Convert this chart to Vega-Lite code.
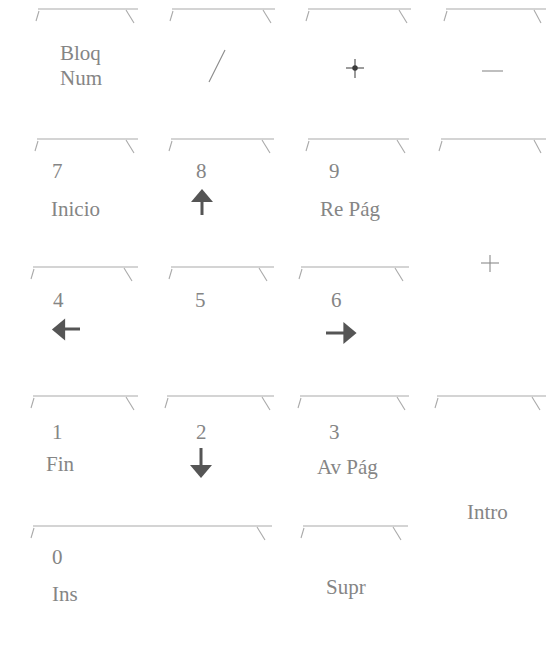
{
  "$schema": "https://vega.github.io/schema/vega-lite/v6.json",
  "width": 546,
  "height": 649,
  "padding": 0,
  "autosize": "none",
  "background": "white",
  "config": {"view": {"stroke": null}},
  "datasets": {
    "outline": [
      {"x": 38, "y": 9, "x2": 138, "y2": 9}, {"x": 126, "y": 10, "x2": 134, "y2": 23}, {"x": 39, "y": 11, "x2": 36, "y2": 21},
      {"x": 172, "y": 9, "x2": 275, "y2": 9}, {"x": 263, "y": 10, "x2": 271, "y2": 23}, {"x": 173, "y": 11, "x2": 170, "y2": 21},
      {"x": 308, "y": 9, "x2": 411, "y2": 9}, {"x": 399, "y": 10, "x2": 407, "y2": 23}, {"x": 309, "y": 11, "x2": 306, "y2": 21},
      {"x": 446, "y": 9, "x2": 546, "y2": 9}, {"x": 534, "y": 10, "x2": 541, "y2": 23}, {"x": 447, "y": 11, "x2": 444, "y2": 21},
      {"x": 37, "y": 139, "x2": 138, "y2": 139}, {"x": 126, "y": 140, "x2": 134, "y2": 153}, {"x": 38, "y": 141, "x2": 35, "y2": 151},
      {"x": 171, "y": 139, "x2": 274, "y2": 139}, {"x": 262, "y": 140, "x2": 270, "y2": 153}, {"x": 172, "y": 141, "x2": 169, "y2": 151},
      {"x": 308, "y": 139, "x2": 409, "y2": 139}, {"x": 397, "y": 140, "x2": 405, "y2": 153}, {"x": 309, "y": 141, "x2": 306, "y2": 151},
      {"x": 441, "y": 139, "x2": 546, "y2": 139}, {"x": 534, "y": 140, "x2": 541, "y2": 153}, {"x": 442, "y": 141, "x2": 439, "y2": 151},
      {"x": 33, "y": 267, "x2": 138, "y2": 267}, {"x": 124, "y": 268, "x2": 132, "y2": 281}, {"x": 34, "y": 269, "x2": 31, "y2": 279},
      {"x": 171, "y": 267, "x2": 274, "y2": 267}, {"x": 259, "y": 268, "x2": 267, "y2": 281}, {"x": 172, "y": 269, "x2": 169, "y2": 279},
      {"x": 301, "y": 267, "x2": 409, "y2": 267}, {"x": 395, "y": 268, "x2": 403, "y2": 281}, {"x": 302, "y": 269, "x2": 299, "y2": 279},
      {"x": 33, "y": 396, "x2": 138, "y2": 396}, {"x": 126, "y": 397, "x2": 134, "y2": 410}, {"x": 34, "y": 398, "x2": 31, "y2": 408},
      {"x": 167, "y": 396, "x2": 274, "y2": 396}, {"x": 262, "y": 397, "x2": 270, "y2": 410}, {"x": 168, "y": 398, "x2": 165, "y2": 408},
      {"x": 300, "y": 396, "x2": 409, "y2": 396}, {"x": 397, "y": 397, "x2": 405, "y2": 410}, {"x": 301, "y": 398, "x2": 298, "y2": 408},
      {"x": 437, "y": 396, "x2": 546, "y2": 396}, {"x": 532, "y": 397, "x2": 540, "y2": 410}, {"x": 438, "y": 398, "x2": 435, "y2": 408},
      {"x": 33, "y": 526, "x2": 272, "y2": 526}, {"x": 257, "y": 527, "x2": 265, "y2": 540}, {"x": 34, "y": 528, "x2": 31, "y2": 538},
      {"x": 303, "y": 526, "x2": 408, "y2": 526}, {"x": 393, "y": 527, "x2": 401, "y2": 540}, {"x": 304, "y": 528, "x2": 301, "y2": 538}
    ],
    "glyphs": [
      {"x": 225, "y": 50, "x2": 209, "y2": 82},
      {"x": 482, "y": 71, "x2": 503, "y2": 71},
      {"x": 481, "y": 263, "x2": 499, "y2": 263},
      {"x": 490, "y": 255, "x2": 490, "y2": 272}
    ],
    "star": [
      {"x": 346, "y": 68, "x2": 364, "y2": 68},
      {"x": 355, "y": 59, "x2": 355, "y2": 78}
    ],
    "starcenter": [{"x": 355, "y": 68}],
    "stems": [
      {"x": 202, "y": 200, "x2": 202, "y2": 215},
      {"x": 201, "y": 448, "x2": 201, "y2": 467},
      {"x": 62, "y": 329, "x2": 80, "y2": 329},
      {"x": 326, "y": 333, "x2": 347, "y2": 333}
    ],
    "heads": [
      {"x": 202, "y": 195.5, "dir": "up"},
      {"x": 201, "y": 471.5, "dir": "down"},
      {"x": 58.5, "y": 329.5, "dir": "left"},
      {"x": 350, "y": 333, "dir": "right"}
    ],
    "labels": [
      {"x": 60, "y": 60, "text": "Bloq"},
      {"x": 60, "y": 85, "text": "Num"},
      {"x": 52, "y": 178, "text": "7"},
      {"x": 196, "y": 178, "text": "8"},
      {"x": 329, "y": 178, "text": "9"},
      {"x": 51, "y": 216, "text": "Inicio"},
      {"x": 320, "y": 216, "text": "Re Pág"},
      {"x": 53, "y": 307, "text": "4"},
      {"x": 195, "y": 307, "text": "5"},
      {"x": 331, "y": 307, "text": "6"},
      {"x": 52, "y": 439, "text": "1"},
      {"x": 196, "y": 439, "text": "2"},
      {"x": 329, "y": 439, "text": "3"},
      {"x": 46, "y": 471, "text": "Fin"},
      {"x": 317, "y": 474, "text": "Av Pág"},
      {"x": 467, "y": 519, "text": "Intro"},
      {"x": 52, "y": 564, "text": "0"},
      {"x": 52, "y": 601, "text": "Ins"},
      {"x": 326, "y": 594, "text": "Supr"}
    ]
  },
  "layer": [
    {
      "data": {"name": "outline"},
      "mark": {"type": "rule", "color": "#a9a9a9", "strokeWidth": 1.1},
      "encoding": {
        "x": {"field": "x", "type": "quantitative", "scale": {"domain": [0, 546], "nice": false, "zero": false}, "axis": null},
        "y": {"field": "y", "type": "quantitative", "scale": {"domain": [0, 649], "reverse": true, "nice": false, "zero": false}, "axis": null},
        "x2": {"field": "x2"},
        "y2": {"field": "y2"}
      }
    },
    {
      "data": {"name": "glyphs"},
      "mark": {"type": "rule", "color": "#8a8a8a", "strokeWidth": 1.1},
      "encoding": {
        "x": {"field": "x", "type": "quantitative"},
        "y": {"field": "y", "type": "quantitative"},
        "x2": {"field": "x2"},
        "y2": {"field": "y2"}
      }
    },
    {
      "data": {"name": "star"},
      "mark": {"type": "rule", "color": "#666666", "strokeWidth": 1.3},
      "encoding": {
        "x": {"field": "x", "type": "quantitative"},
        "y": {"field": "y", "type": "quantitative"},
        "x2": {"field": "x2"},
        "y2": {"field": "y2"}
      }
    },
    {
      "data": {"name": "starcenter"},
      "mark": {"type": "point", "shape": "circle", "filled": true, "color": "#3a3a3a", "size": 30, "opacity": 1},
      "encoding": {
        "x": {"field": "x", "type": "quantitative"},
        "y": {"field": "y", "type": "quantitative"}
      }
    },
    {
      "data": {"name": "stems"},
      "mark": {"type": "rule", "color": "#555555", "strokeWidth": 3},
      "encoding": {
        "x": {"field": "x", "type": "quantitative"},
        "y": {"field": "y", "type": "quantitative"},
        "x2": {"field": "x2"},
        "y2": {"field": "y2"}
      }
    },
    {
      "data": {"name": "heads"},
      "mark": {"type": "point", "filled": true, "color": "#555555", "size": 484, "opacity": 1, "strokeWidth": 0},
      "encoding": {
        "x": {"field": "x", "type": "quantitative"},
        "y": {"field": "y", "type": "quantitative"},
        "shape": {
          "field": "dir",
          "type": "nominal",
          "legend": null,
          "scale": {
            "domain": ["up", "down", "left", "right"],
            "range": ["M-1,0.6L1,0.6L0,-0.6Z", "M-1,-0.6L1,-0.6L0,0.6Z", "M0.6,-1L0.6,1L-0.6,0Z", "M-0.6,-1L-0.6,1L0.6,0Z"]
          }
        }
      }
    },
    {
      "data": {"name": "labels"},
      "mark": {"type": "text", "font": "Liberation Serif", "fontSize": 21, "color": "#858585", "align": "left", "baseline": "alphabetic"},
      "encoding": {
        "x": {"field": "x", "type": "quantitative"},
        "y": {"field": "y", "type": "quantitative"},
        "text": {"field": "text"}
      }
    }
  ]
}
